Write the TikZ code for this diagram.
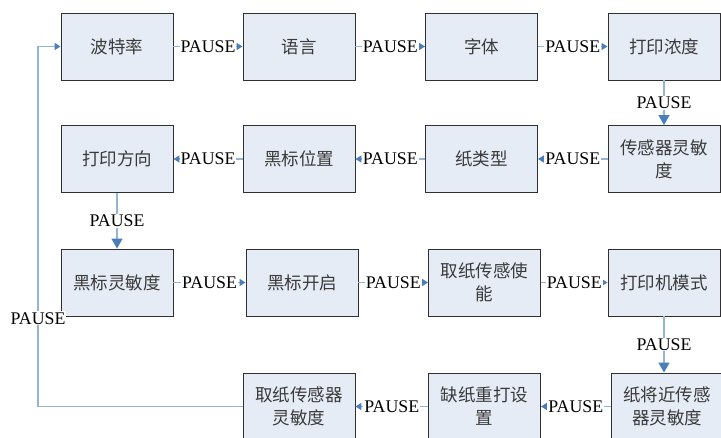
\documentclass[tikz,border=0pt]{standalone}
\usepackage{fontspec}
\setmainfont{Liberation Serif}
\newfontfamily\cjk{Noto Sans CJK SC}
\usetikzlibrary{arrows.meta}
\definecolor{boxfill}{HTML}{E6ECF6}
\definecolor{boxline}{HTML}{303030}
\definecolor{linec}{HTML}{95B3D7}
\definecolor{arrowc}{HTML}{4A7EBB}
\definecolor{txtc}{HTML}{3A3A3A}
\tikzset{
  box/.style={draw=boxline, fill=boxfill, line width=0.9pt, minimum width=112pt, minimum height=67pt,
    align=center, text=txtc, inner sep=2pt, font=\cjk\fontsize{17.5}{23}\selectfont},
  lab/.style={fill=white, inner sep=1pt, text=black, font=\fontsize{17.8}{20}\selectfont},
  conn/.style={draw=linec, line width=1.4pt},
  harr/.style={conn, -{Triangle[length=6pt,width=7pt,color=arrowc]}},
  varr/.style={conn, -{Triangle[length=10pt,width=11pt,color=arrowc]}},
}
\begin{document}
\begin{tikzpicture}[x=1pt,y=-1pt]
\useasboundingbox (0,0) rectangle (721,437);
% row 1
\node[box] (a1) at (117,46.5) {波特率};
\node[box] (a2) at (299,46.5) {语言};
\node[box] (a3) at (481.5,46.5) {字体};
\node[box] (a4) at (664,46.5) {打印浓度};
% row 2
\node[box] (b1) at (117,159) {打印方向};
\node[box] (b2) at (299,159) {黑标位置};
\node[box] (b3) at (481.5,159) {纸类型};
\node[box] (b4) at (664,159) {传感器灵敏\\度};
% row 3
\node[box] (c1) at (117,282.5) {黑标灵敏度};
\node[box] (c2) at (302,282.5) {黑标开启};
\node[box] (c3) at (484.5,282.5) {取纸传感使\\能};
\node[box] (c4) at (664,282.5) {打印机模式};
% row 4
\node[box] (d1) at (299,406.5) {取纸传感器\\灵敏度};
\node[box] (d2) at (484.5,406.5) {缺纸重打设\\置};
\node[box] (d3) at (667,406.5) {纸将近传感\\器灵敏度};
% connectors row 1
\draw[harr] (a1) -- node[lab]{PAUSE} (a2);
\draw[harr] (a2) -- node[lab]{PAUSE} (a3);
\draw[harr] (a3) -- node[lab]{PAUSE} (a4);
\draw[varr] (a4) -- node[lab]{PAUSE} (b4);
% row 2
\draw[harr] (b4) -- node[lab]{PAUSE} (b3);
\draw[harr] (b3) -- node[lab]{PAUSE} (b2);
\draw[harr] (b2) -- node[lab]{PAUSE} (b1);
\draw[varr] (b1) -- node[lab]{PAUSE} (c1);
% row 3
\draw[harr] (c1) -- node[lab]{PAUSE} (c2);
\draw[harr] (c2) -- node[lab]{PAUSE} (c3);
\draw[harr] (c3) -- node[lab]{PAUSE} (c4);
\draw[varr] (c4.south -| 664,0) -- node[lab]{PAUSE} (d3.north -| 664,0);
% row 4
\draw[harr] (d3) -- node[lab]{PAUSE} (d2);
\draw[harr] (d2) -- node[lab]{PAUSE} (d1);
% loop back
\coordinate (k1) at (38,406.5);
\coordinate (k2) at (38,46.5);
\draw[harr] (d1.west) -- (k1) -- node[lab,pos=0.245]{PAUSE} (k2) -- (a1.west);
\end{tikzpicture}
\end{document}
